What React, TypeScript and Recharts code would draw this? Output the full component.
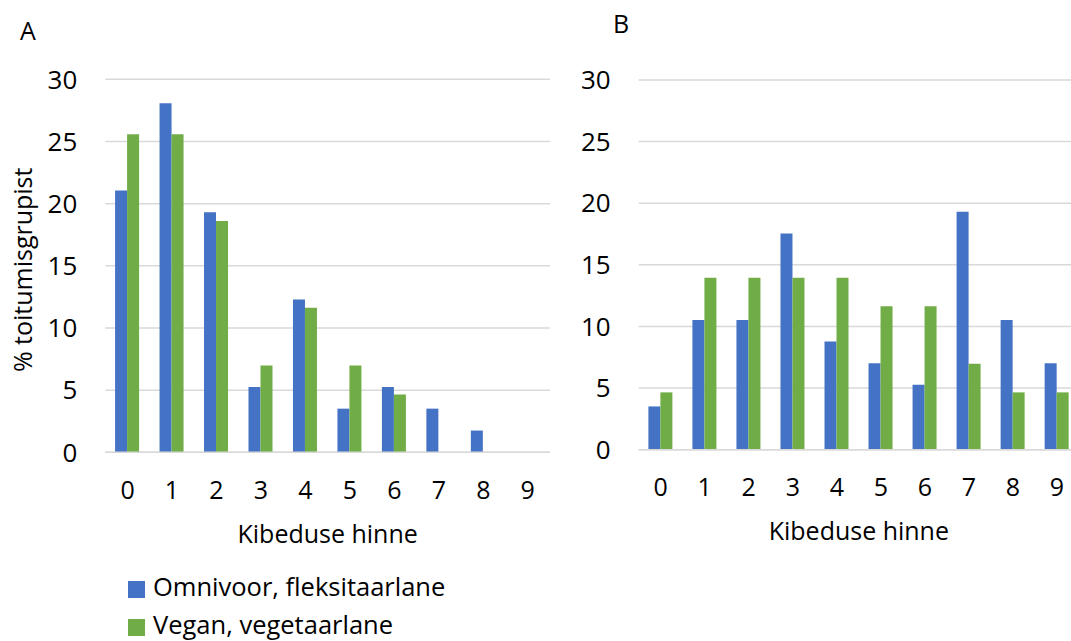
import { BarChart, Bar, XAxis, YAxis, CartesianGrid, Label } from 'recharts';

const categories = ['0', '1', '2', '3', '4', '5', '6', '7', '8', '9'];
const yTicks = [0, 5, 10, 15, 20, 25, 30];

// A
const omnivoreA = [21.05, 28.07, 19.3, 5.26, 12.28, 3.51, 5.26, 3.51, 1.75, 0];
const veganA = [25.58, 25.58, 18.6, 6.98, 11.63, 6.98, 4.65, 0, 0, 0];
// B
const omnivoreB = [3.51, 10.53, 10.53, 17.54, 8.77, 7.02, 5.26, 19.3, 10.53, 7.02];
const veganB = [4.65, 13.95, 13.95, 13.95, 13.95, 11.63, 11.63, 6.98, 4.65, 4.65];

const seriesNames = ['Omnivoor, fleksitaarlane', 'Vegan, vegetaarlane'];
const BLUE = '#4472C4';
const GREEN = '#70AD47';
const GRID = '#d9d9d9';

const buildRows = (omni: number[], vegan: number[]) =>
  categories.map((c, i) => ({ score: c, omni: omni[i], vegan: vegan[i] }));

const YTitle = (props: any) => {
  const { viewBox } = props;
  const cx = 32;
  const cy = viewBox.y + viewBox.height / 2 + 4;
  return (
    <text x={cx} y={cy} transform={`rotate(-90 ${cx} ${cy})`} textAnchor="middle" fontSize={25} fill="#000">
      % toitumisgrupist
    </text>
  );
};

interface PanelProps {
  rows: { score: string; omni: number; vegan: number }[];
  left: number;
  width: number;
  top: number;
  plotHeight: number;
  axisWidth: number;
  right: number;
  titleOffset: number;
  showYTitle?: boolean;
}

const Panel = ({ rows, left, width, top, plotHeight, axisWidth, right, titleOffset, showYTitle }: PanelProps) => (
  <div style={{ position: 'absolute', left, top: 0 }}>
    <BarChart
      width={width}
      height={top + plotHeight + 100}
      data={rows}
      margin={{ top, right, left: 0, bottom: 0 }}
      barCategoryGap="22%"
      barGap={0}
    >
      <CartesianGrid vertical={false} stroke={GRID} strokeWidth={1.5} />
      <XAxis
        dataKey="score"
        interval={0}
        height={100}
        tickLine={false}
        tickSize={0}
        tickMargin={29}
        axisLine={{ stroke: GRID, strokeWidth: 1.5 }}
        tick={{ fill: '#000', fontSize: 25 }}
      >
        <Label value="Kibeduse hinne" position="insideBottom" offset={titleOffset} fontSize={25} fill="#000" />
      </XAxis>
      <YAxis
        domain={[0, 30]}
        ticks={yTicks}
        width={axisWidth}
        axisLine={false}
        tickLine={false}
        tickSize={0}
        tickMargin={28}
        tick={{ fill: '#000', fontSize: 26 }}
      >
        {showYTitle && <Label content={<YTitle />} />}
      </YAxis>
      <Bar dataKey="omni" name={seriesNames[0]} fill={BLUE} isAnimationActive={false} />
      <Bar dataKey="vegan" name={seriesNames[1]} fill={GREEN} isAnimationActive={false} />
    </BarChart>
  </div>
);

const LegendRow = ({ color, text }: { color: string; text: string }) => (
  <div style={{ display: 'flex', alignItems: 'center', height: 38 }}>
    <div style={{ width: 17, height: 17, background: color, marginRight: 8 }} />
    <span style={{ fontSize: 25.5, color: '#000', whiteSpace: 'nowrap', position: 'relative', top: -3 }}>{text}</span>
  </div>
);

export default function App() {
  return (
    <div
      style={{
        position: 'absolute',
        left: 0,
        top: 0,
        width: 1071,
        height: 641,
        overflow: 'hidden',
        background: '#fff',
        fontFamily: '"Open Sans", sans-serif',
      }}
    >
      <div style={{ position: 'absolute', left: 20, top: 18, fontSize: 25, lineHeight: '25px' }}>A</div>
      <div style={{ position: 'absolute', left: 613, top: 11, fontSize: 25, lineHeight: '25px' }}>B</div>

      <Panel
        rows={buildRows(omnivoreA, veganA)}
        left={0}
        width={560}
        top={79.3}
        plotHeight={373}
        axisWidth={105.3}
        right={10}
        titleOffset={9}
        showYTitle
      />
      <Panel
        rows={buildRows(omnivoreB, veganB)}
        left={560}
        width={519}
        top={80}
        plotHeight={369.7}
        axisWidth={78.7}
        right={0}
        titleOffset={10}
      />

      <div style={{ position: 'absolute', left: 128, top: 570 }}>
        <LegendRow color={BLUE} text={seriesNames[0]} />
        <LegendRow color={GREEN} text={seriesNames[1]} />
      </div>
    </div>
  );
}
